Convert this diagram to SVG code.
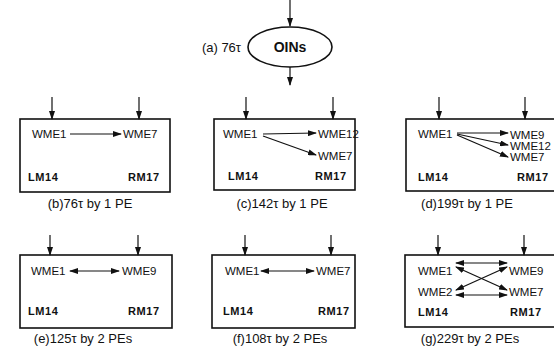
<svg xmlns="http://www.w3.org/2000/svg" width="554" height="353" viewBox="0 0 554 353">
<defs>
<marker id="ah" markerUnits="userSpaceOnUse" markerWidth="9" markerHeight="6" refX="8" refY="3" orient="auto-start-reverse" viewBox="0 0 9 6">
<path d="M0,0 L9,3 L0,6 Z" fill="#111"/>
</marker>
</defs>
<style>
.box{fill:#fff;stroke:#111;stroke-width:1.6}
.ln{stroke:#111;stroke-width:1.2;fill:none}
.w{font-family:"Liberation Sans",Arial,sans-serif;font-size:11.5px;fill:#111}
.b{font-family:"Liberation Sans",Arial,sans-serif;font-size:11px;font-weight:bold;fill:#111;letter-spacing:0.6px}
.cap{font-family:"Liberation Sans",Arial,sans-serif;font-size:13px;fill:#111;text-anchor:middle}
</style>
<rect width="554" height="353" fill="#fff"/>

<g id="nodeA">
<ellipse cx="290" cy="47" rx="42" ry="20" fill="#fff" stroke="#111" stroke-width="1.6"/>
<text x="290" y="52" text-anchor="middle" font-family="Liberation Sans,Arial,sans-serif" font-size="14" font-weight="bold" fill="#111">OINs</text>
<text x="241" y="52" text-anchor="end" class="w" style="font-size:13px">(a) 76τ</text>
</g>

<g id="nodeB">
<rect class="box" x="20" y="119" width="150" height="73"/>
<text class="w" x="32" y="138">WME1</text>
<text class="w" x="123" y="138">WME7</text>
<text class="b" x="28" y="181">LM14</text>
<text class="b" x="128" y="181">RM17</text>
<text class="cap" x="90" y="208">(b)76τ by 1 PE</text>
</g>

<g id="nodeC">
<rect class="box" x="214" y="119" width="141" height="71"/>
<text class="w" x="223" y="138">WME1</text>
<text class="w" x="318" y="138">WME12</text>
<text class="w" x="318" y="160">WME7</text>
<text class="b" x="228" y="180">LM14</text>
<text class="b" x="315" y="180">RM17</text>
<text class="cap" x="282" y="208">(c)142τ by 1 PE</text>
</g>

<g id="nodeD">
<rect class="box" x="406" y="119" width="160" height="72"/>
<text class="w" x="418" y="138">WME1</text>
<text class="w" x="510" y="139">WME9</text>
<text class="w" x="510" y="150">WME12</text>
<text class="w" x="510" y="161">WME7</text>
<text class="b" x="418" y="181">LM14</text>
<text class="b" x="517" y="181">RM17</text>
<text class="cap" x="467" y="208">(d)199τ by 1 PE</text>
</g>

<g id="nodeE">
<rect class="box" x="20" y="255" width="152" height="73"/>
<text class="w" x="31" y="275">WME1</text>
<text class="w" x="122" y="275">WME9</text>
<text class="b" x="28" y="315">LM14</text>
<text class="b" x="128" y="315">RM17</text>
<text class="cap" x="83" y="343">(e)125τ by 2 PEs</text>
</g>

<g id="nodeF">
<rect class="box" x="212" y="255" width="143" height="73"/>
<text class="w" x="225" y="275">WME1</text>
<text class="w" x="316" y="275">WME7</text>
<text class="b" x="223" y="315">LM14</text>
<text class="b" x="318" y="315">RM17</text>
<text class="cap" x="280" y="343">(f)108τ by 2 PEs</text>
</g>

<g id="nodeG">
<rect class="box" x="405" y="255" width="160" height="72"/>
<text class="w" x="418" y="275">WME1</text>
<text class="w" x="418" y="296">WME2</text>
<text class="w" x="509" y="275">WME9</text>
<text class="w" x="509" y="296">WME7</text>
<text class="b" x="418" y="316">LM14</text>
<text class="b" x="510" y="316">RM17</text>
<text class="cap" x="470" y="343">(g)229τ by 2 PEs</text>
</g>

<g id="connectors">
<line class="ln" x1="290" y1="0" x2="290" y2="26" marker-end="url(#ah)"/>
<line class="ln" x1="290" y1="67" x2="290" y2="85" marker-end="url(#ah)"/>

<line class="ln" x1="52" y1="97" x2="52" y2="119" marker-end="url(#ah)"/>
<line class="ln" x1="139" y1="97" x2="139" y2="119" marker-end="url(#ah)"/>
<line class="ln" x1="70" y1="134" x2="121" y2="134" marker-end="url(#ah)"/>

<line class="ln" x1="246" y1="97" x2="246" y2="119" marker-end="url(#ah)"/>
<line class="ln" x1="333" y1="97" x2="333" y2="119" marker-end="url(#ah)"/>
<line class="ln" x1="263" y1="134" x2="316" y2="133" marker-end="url(#ah)"/>
<line class="ln" x1="263" y1="136" x2="316" y2="155" marker-end="url(#ah)"/>

<line class="ln" x1="439" y1="97" x2="439" y2="119" marker-end="url(#ah)"/>
<line class="ln" x1="525" y1="97" x2="525" y2="119" marker-end="url(#ah)"/>
<line class="ln" x1="457" y1="133" x2="508" y2="133" marker-end="url(#ah)"/>
<line class="ln" x1="457" y1="134" x2="508" y2="145" marker-end="url(#ah)"/>
<line class="ln" x1="457" y1="135" x2="508" y2="157" marker-end="url(#ah)"/>

<line class="ln" x1="50" y1="235" x2="50" y2="255" marker-end="url(#ah)"/>
<line class="ln" x1="138" y1="235" x2="138" y2="255" marker-end="url(#ah)"/>
<line class="ln" x1="70" y1="271" x2="119" y2="271" marker-start="url(#ah)" marker-end="url(#ah)"/>

<line class="ln" x1="245" y1="235" x2="245" y2="255" marker-end="url(#ah)"/>
<line class="ln" x1="331" y1="235" x2="331" y2="255" marker-end="url(#ah)"/>
<line class="ln" x1="261" y1="271" x2="314" y2="271" marker-start="url(#ah)" marker-end="url(#ah)"/>

<line class="ln" x1="438" y1="235" x2="438" y2="255" marker-end="url(#ah)"/>
<line class="ln" x1="524" y1="235" x2="524" y2="255" marker-end="url(#ah)"/>
<line class="ln" x1="456" y1="263" x2="507" y2="263" marker-start="url(#ah)" marker-end="url(#ah)"/>
<line class="ln" x1="456" y1="295" x2="507" y2="295" marker-start="url(#ah)" marker-end="url(#ah)"/>
<line class="ln" x1="456" y1="267" x2="507" y2="290" marker-start="url(#ah)" marker-end="url(#ah)"/>
<line class="ln" x1="456" y1="290" x2="507" y2="267" marker-start="url(#ah)" marker-end="url(#ah)"/>
</g>
</svg>
